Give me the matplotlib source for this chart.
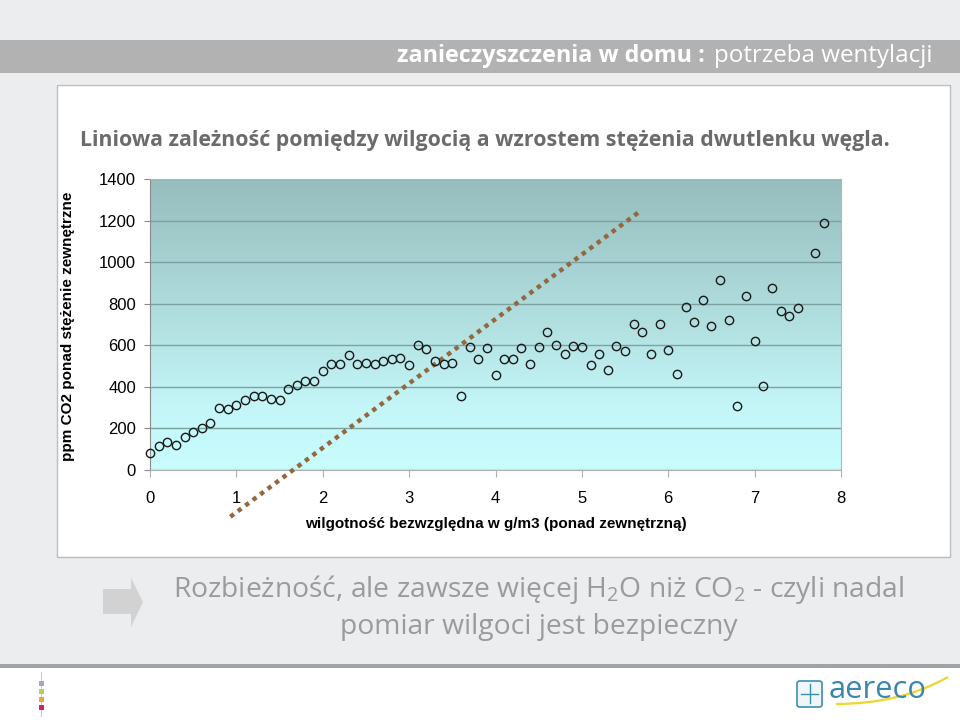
import numpy as np
import matplotlib
matplotlib.use('Agg')
import matplotlib.pyplot as plt
from matplotlib.patches import Rectangle, Polygon, FancyBboxPatch, PathPatch
from matplotlib.path import Path
from matplotlib.colors import LinearSegmentedColormap

plt.rcParams['font.family'] = ['Liberation Sans', 'DejaVu Sans']
plt.rcParams['mathtext.default'] = 'regular'

# humidity above outdoor (g/m3) vs CO2 above outdoor (ppm)
humidity = [0.0, 0.1, 0.2, 0.3, 0.4, 0.5, 0.6, 0.7, 0.8, 0.9,
            1.0, 1.1, 1.2, 1.3, 1.4, 1.5, 1.6, 1.7, 1.8, 1.9,
            2.0, 2.1, 2.2, 2.3, 2.4, 2.5, 2.6, 2.7, 2.8, 2.9,
            3.0, 3.1, 3.2, 3.3, 3.4, 3.5, 3.6, 3.7, 3.8, 3.9,
            4.0, 4.1, 4.2, 4.3, 4.4, 4.5, 4.6, 4.7, 4.8, 4.9,
            5.0, 5.1, 5.2, 5.3, 5.4, 5.5, 5.6, 5.7, 5.8, 5.9,
            6.0, 6.1, 6.2, 6.3, 6.4, 6.5, 6.6, 6.7, 6.8, 6.9,
            7.0, 7.1, 7.2, 7.3, 7.4, 7.5, 7.7, 7.8]
co2_ppm = [83, 114, 136, 122, 160, 182, 202, 224, 298, 293,
           315, 338, 354, 354, 342, 339, 389, 408, 429, 427,
           475, 510, 510, 554, 510, 517, 510, 523, 533, 541,
           507, 602, 582, 526, 510, 517, 357, 592, 533, 587,
           456, 533, 536, 587, 510, 592, 664, 603, 560, 598,
           592, 507, 557, 480, 598, 571, 701, 664, 557, 701,
           576, 461, 786, 712, 816, 691, 912, 720, 309, 835,
           621, 403, 877, 763, 739, 779, 1042, 1190]

# dotted "linear" reference line
trend_x = [0.93, 5.68]
trend_y = [-225, 1247]

x_ticks = [0, 1, 2, 3, 4, 5, 6, 7, 8]
y_ticks = [0, 200, 400, 600, 800, 1000, 1200, 1400]

header_bold = 'zanieczyszczenia w domu :'
header_reg = 'potrzeba wentylacji'
title = 'Liniowa zależność pomiędzy wilgocią a wzrostem stężenia dwutlenku węgla.'
xlabel = 'wilgotność bezwzględna w g/m3 (ponad zewnętrzną)'
ylabel = 'ppm CO2 ponad stężenie zewnętrzne'
note1 = 'Rozbieżność, ale zawsze więcej H$_2$O niż CO$_2$ - czyli nadal'
note2 = 'pomiar wilgoci jest bezpieczny'

W, H = 960, 720
fig = plt.figure(figsize=(9.6, 7.2), dpi=100)
fig.patch.set_facecolor('white')


def fx(px):
    return px / W


def fy(py):
    return 1 - py / H


def box(x0, y0, x1, y1, zorder=-5, **kw):
    r = Rectangle((fx(x0), fy(y1)), (x1 - x0) / W, (y1 - y0) / H,
                  transform=fig.transFigure, zorder=zorder, **kw)
    fig.add_artist(r)
    return r


# slide background
box(0, 0, 960, 667, facecolor='#ebedef', lw=0)
box(0, 664, 960, 668, facecolor='#a3a3a3', lw=0)
box(0, 40, 960, 73, facecolor='#b2b2b2', lw=0)
box(57, 85, 950, 557, facecolor='white', edgecolor='#bdbdbd', lw=1)

renderer = fig.canvas.get_renderer()


def fit(t, width_px):
    w = t.get_window_extent(renderer).width
    t.set_fontsize(t.get_fontsize() * width_px / w)


# header
t_reg = fig.text(fx(933), fy(62), header_reg, ha='right', va='baseline',
                 color='white', family='Open Sans', fontsize=17)
fit(t_reg, 218)
t_bold = fig.text(fx(705), fy(62), header_bold, ha='right', va='baseline',
                  color='white', family='Open Sans', weight='bold', fontsize=17)
fit(t_bold, 308)

# title
t_title = fig.text(fx(80), fy(146), title, ha='left', va='baseline',
                   color='#6b6b6b', family='Open Sans', weight='bold', fontsize=16)
fit(t_title, 812)

# chart
ax = fig.add_axes([fx(150), fy(470), (841 - 150) / W, (470 - 179) / H])
cmap = LinearSegmentedColormap.from_list(
    'bg', [(0, '#97bdbd'), (0.5, '#b2e0e1'), (0.78, '#c4f6f8'), (1, '#c8fcfd')])
grad = np.linspace(0, 1, 256).reshape(-1, 1)
ax.imshow(grad, extent=[0, 8, 0, 1400], aspect='auto', cmap=cmap,
          origin='upper', zorder=0, interpolation='bilinear')
ax.set_xlim(0, 8)
ax.set_ylim(0, 1400)
ax.set_xticks(x_ticks)
ax.set_yticks(y_ticks)
ax.yaxis.grid(True, color='#7da2a2', lw=1)
for s in ['top', 'right']:
    ax.spines[s].set_color('#a9b9b9')
ax.spines['left'].set_color('#8a8a8a')
ax.spines['bottom'].set_color('#b0b0b0')
ax.tick_params(axis='x', length=5, color='#b0b0b0', labelsize=12, pad=10)
ax.tick_params(axis='y', length=4, color='#8a8a8a', labelsize=12, pad=6)

ax.plot(trend_x, trend_y, color='#94673f', lw=3.2, linestyle=(0, (1, 1.1)),
        dash_capstyle='butt', clip_on=False, zorder=3)
ax.plot(humidity, co2_ppm, 'o', mfc='none', mec='#1a1a1a', ms=6, mew=1,
        clip_on=False, zorder=4)

fig.text(fx(496), fy(524), xlabel, ha='center', va='center', weight='bold',
         fontsize=11)
fig.text(fx(68), fy(326), ylabel, ha='center', va='center', weight='bold',
         fontsize=11, rotation=90)

# block arrow
arrow = [(103, 589), (131, 589), (131, 578), (143, 602), (131, 627),
         (131, 614), (103, 614)]
fig.add_artist(Polygon([(fx(a), fy(b)) for a, b in arrow], closed=True,
                       transform=fig.transFigure, facecolor='#d2d2d2', lw=0))

t_n1 = fig.text(fx(539), fy(597), note1, ha='center', va='baseline',
                color='#9b9b9b', family='Open Sans', fontsize=24)
fit(t_n1, 733)
fig.text(fx(539), fy(634), note2, ha='center', va='baseline',
         color='#9b9b9b', family='Open Sans', fontsize=t_n1.get_fontsize())

# small coloured marker bottom-left
fig.add_artist(plt.Line2D([fx(41), fx(41)], [fy(672), fy(716)],
                          transform=fig.transFigure, color='#c9c9d2', lw=0.8))
for yy, c in zip([683, 691, 699, 707], ['#a7a3cc', '#b5cf58', '#f2a527', '#cf1f7a']):
    box(38.5, yy - 2.5, 43.5, yy + 2.5, zorder=2, facecolor=c, lw=0)

# logo
fig.add_artist(FancyBboxPatch((fx(797), fy(707)), 25 / W, 26 / H,
                              boxstyle='round,pad=0,rounding_size=0.003',
                              transform=fig.transFigure, facecolor='#eef6f8',
                              edgecolor='#3d8fb1', lw=1.2))
for (a, b, c, d) in [(809.5, 684, 809.5, 703), (801, 693.5, 818, 693.5)]:
    fig.add_artist(plt.Line2D([fx(a), fx(c)], [fy(b), fy(d)],
                              transform=fig.transFigure, color='#3d8fb1', lw=1))
swoosh = Path([(fx(836), fy(704)), (fx(900), fy(704)), (fx(948), fy(677))],
              [Path.MOVETO, Path.CURVE3, Path.CURVE3])
fig.add_artist(PathPatch(swoosh, transform=fig.transFigure, facecolor='none',
                         edgecolor='#f0d52a', lw=1.6))
t_logo = fig.text(fx(829), fy(698), 'aereco', ha='left', va='baseline',
                  color='#3a86ad', family='Open Sans', fontsize=22)
fit(t_logo, 98)

fig.savefig('out.png', dpi=100, facecolor=fig.get_facecolor())
